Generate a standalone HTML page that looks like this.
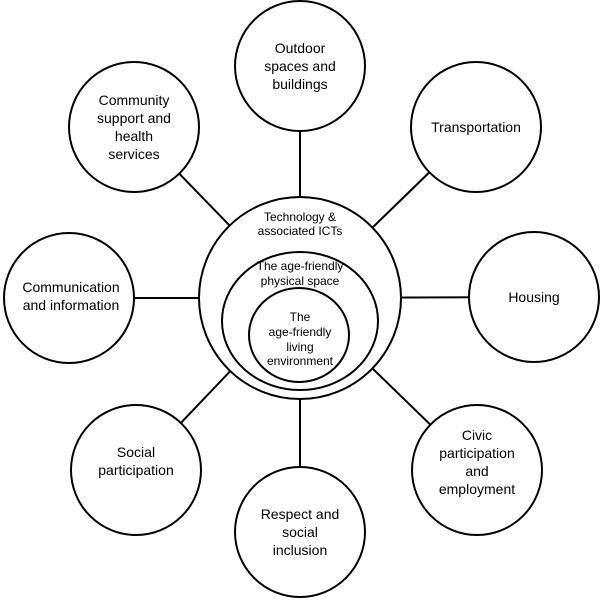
<!DOCTYPE html>
<html><head><style>body{margin:0;background:#fff}</style></head><body>
<svg width="601" height="600" xmlns="http://www.w3.org/2000/svg" font-family="Liberation Sans, sans-serif" font-size="14" text-anchor="middle">
<g stroke="#000" stroke-width="2">
<line x1="300" y1="298" x2="300" y2="65"/>
<line x1="300" y1="298" x2="476" y2="127"/>
<line x1="300" y1="298" x2="534" y2="297"/>
<line x1="300" y1="298" x2="477" y2="470"/>
<line x1="300" y1="298" x2="300" y2="532"/>
<line x1="300" y1="298" x2="136" y2="470"/>
<line x1="300" y1="298" x2="70" y2="298"/>
<line x1="300" y1="298" x2="134" y2="127"/>
</g>
<g stroke="#000" stroke-width="2" fill="#fff">
<circle cx="300" cy="66" r="65"/>
<circle cx="476" cy="127" r="65"/>
<circle cx="534" cy="297" r="65"/>
<circle cx="477" cy="470" r="65"/>
<circle cx="300" cy="532" r="65"/>
<circle cx="136" cy="470" r="65"/>
<circle cx="69" cy="298" r="65"/>
<circle cx="134" cy="127" r="65"/>
<circle cx="300" cy="298" r="101"/>
<ellipse cx="300" cy="321" rx="78" ry="69"/>
<ellipse cx="299" cy="335" rx="50" ry="47"/>
</g>
<g fill="#000">
<text x="300" y="53">Outdoor</text><text x="300" y="71">spaces and</text><text x="300" y="89">buildings</text>
<text x="476" y="132">Transportation</text>
<text x="534" y="302">Housing</text>
<text x="477" y="440">Civic</text><text x="477" y="458">participation</text><text x="477" y="476">and</text><text x="477" y="494">employment</text>
<text x="300" y="519">Respect and</text><text x="300" y="537">social</text><text x="300" y="555">inclusion</text>
<text x="136" y="457">Social</text><text x="136" y="475">participation</text>
<text x="71" y="292">Communication</text><text x="71" y="310">and information</text>
<text x="134" y="105">Community</text><text x="134" y="123">support and</text><text x="134" y="141">health</text><text x="134" y="159">services</text>
<g font-size="12">
<text x="300" y="221">Technology &amp;</text><text x="300" y="235">associated ICTs</text>
<text x="300" y="270">The age-friendly</text><text x="300" y="285">physical space</text>
<text x="300" y="321">The</text><text x="300" y="336">age-friendly</text><text x="300" y="351">living</text><text x="300" y="365">environment</text>
</g>
</g>
</svg>
</body></html>
